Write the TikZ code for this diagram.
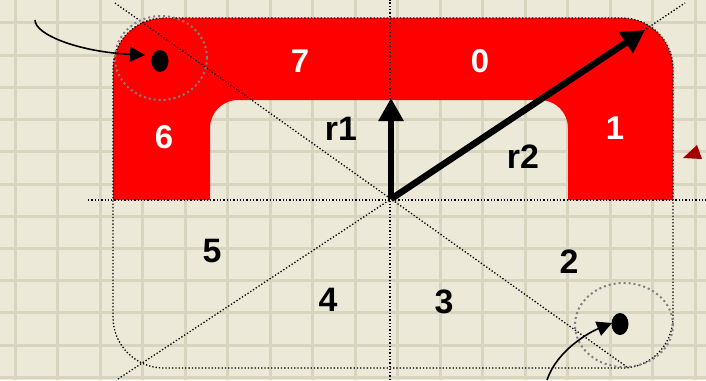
\documentclass[tikz,border=0pt]{standalone}
\usepackage{fontspec}
\setmainfont{Liberation Sans}
\usetikzlibrary{arrows.meta, shapes.geometric}

\definecolor{paper}{RGB}{236,233,216}
\definecolor{gridbeige}{RGB}{216,213,190}
\definecolor{markred}{RGB}{165,0,0}

\begin{document}
\begin{tikzpicture}[x=1bp, y=1bp,
  every node/.style={font=\fontsize{33}{33}\selectfont\bfseries, inner sep=0pt},
  gridline/.style={draw=gridbeige, line width=3bp},
  guide/.style={draw=black, line width=1.3bp, dash pattern=on 1.3bp off 2bp},
  halo/.style={draw=gray, line width=2bp, dash pattern=on 2bp off 3bp},
  vec/.style={-{Triangle[length=23bp, width=24bp]}, line width=6.5bp},
  pointer/.style={-{Triangle[length=15bp, width=15bp]}, line width=1.6bp},
  blob/.style={ellipse, fill=black, minimum width=17bp, minimum height=22bp},
  seg/.style={text=white},
  lbl/.style={text=black, font=\fontsize{34}{34}\selectfont\bfseries}
]

%% Paper and grid
\useasboundingbox (0,0) rectangle (706,380);
\fill[paper] (0,0) rectangle (706,380);
\foreach \i in {0,...,16}
  \draw[gridline] ({15+42.5*\i},0) -- ++(0,380);
\foreach \j in {0,...,11}
  \draw[gridline] (0,{357-32.2*\j}) -- ++(706,0);

%% Red arch
\fill[red] (113,180) -- (113,311) arc[start angle=180, end angle=90, radius=51]
  -- (622,362) arc[start angle=90, end angle=0, radius=51]
  -- (673,180) -- (568,180) -- (568,252) arc[start angle=0, end angle=90, radius=28]
  -- (238,280) arc[start angle=90, end angle=180, radius=28]
  -- (210,180) -- cycle;

%% Dotted guides
\coordinate (O) at (391,181);
\draw[guide, rounded corners=51] (113,12) rectangle (673,362);
\draw[guide] (88,180) -- (706,180);
\draw[guide] (390,0) -- (390,380);
\draw[guide] (115,377) -- (O) -- (627,13);
\draw[guide] (118,1) -- (O) -- (685,377);

%% Contact circles
\draw[halo] (161,322) ellipse [x radius=46, y radius=42];
\draw[halo] (624,55) ellipse [x radius=49, y radius=42];
\node[blob] (hitA) at (160,319) {};
\node[blob] (hitB) at (620,56) {};

%% Vectors
\coordinate (r1tip) at (391,282);
\coordinate (r2tip) at (645,350);
\draw[vec] (O) -- (r1tip);
\draw[vec] (O) -- (r2tip);

%% Pointers to the contacts
\coordinate (tailA) at (35,360);
\coordinate (tipA) at (145,325);
\draw[pointer] (tailA) .. controls (35,345) and (80,328) .. (tipA);
\coordinate (tailB) at (547,0);
\coordinate (tipB) at (612,57);
\draw[pointer] (tailB) .. controls (557,30) and (590,48) .. (tipB);

%% Side marker
\fill[markred] (683,222) -- (697,235) -- (702,221) -- cycle;

%% Sector numbers
\node[seg] (s7) at (300,319) {7};
\node[seg] (s0) at (480,319) {0};
\node[seg] (s6) at (164,243) {6};
\node[seg] (s1) at (615,252) {1};
\node[lbl] (s5) at (212,129) {5};
\node[lbl] (s4) at (328,80) {4};
\node[lbl] (s3) at (444,78) {3};
\node[lbl] (s2) at (569,118) {2};

%% Vector names
\node[lbl] (r1) at (341,251) {r1};
\node[lbl] (r2) at (523,223) {r2};

\end{tikzpicture}
\end{document}
